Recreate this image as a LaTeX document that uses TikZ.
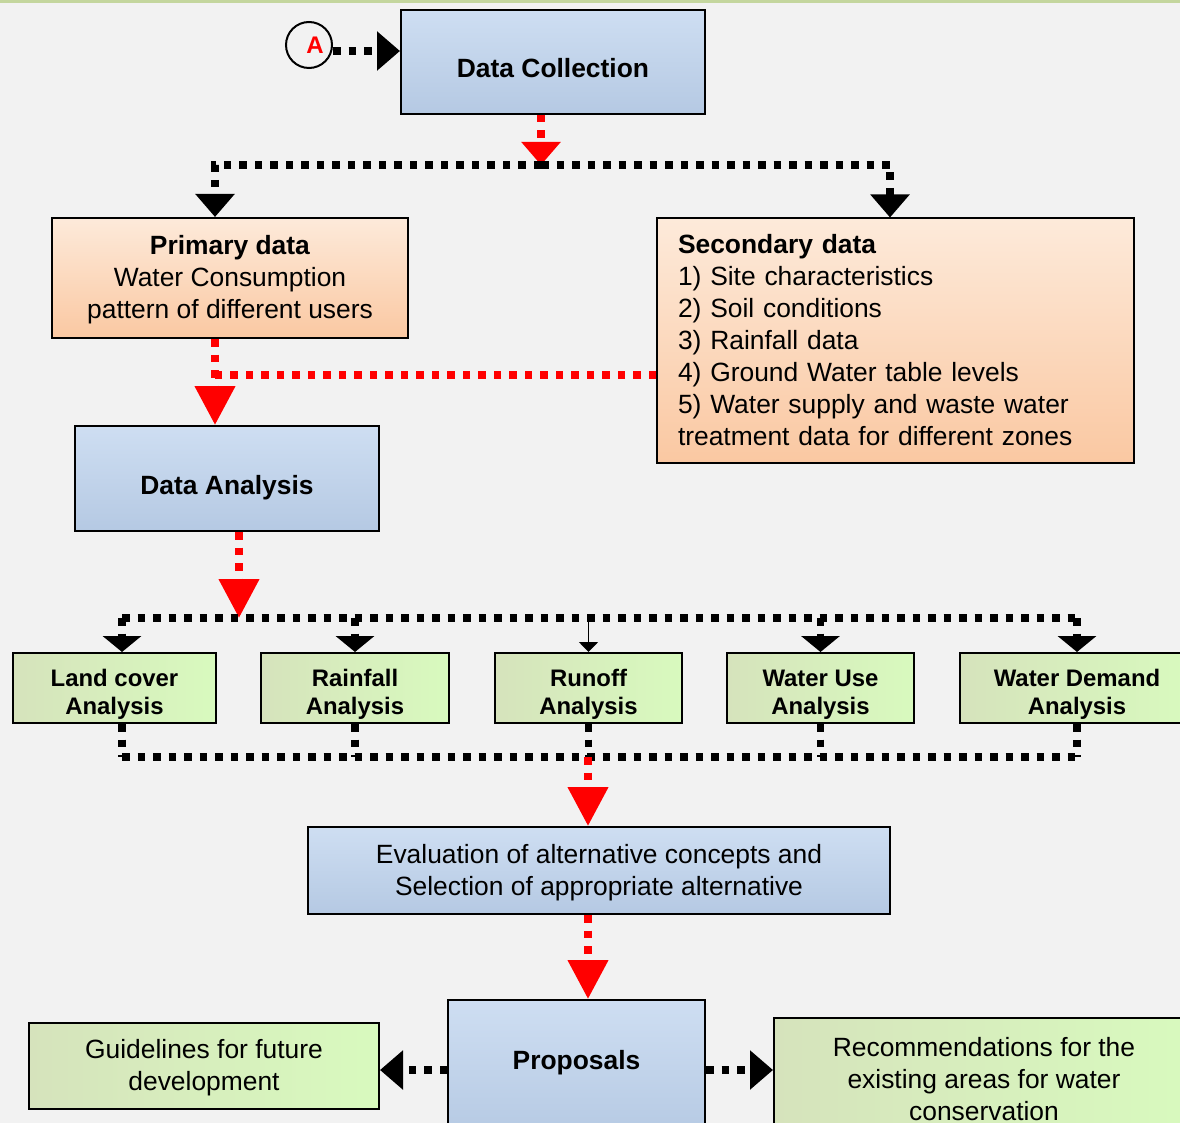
\documentclass[tikz,border=0pt]{standalone}
\usepackage{fontspec}
\setmainfont{Liberation Sans}
\usetikzlibrary{arrows.meta,calc}
\definecolor{paperbg}{RGB}{242,242,242}
\definecolor{topband}{RGB}{196,214,158}
\definecolor{bluetop}{RGB}{206,222,242}
\definecolor{bluebot}{RGB}{181,201,227}
\definecolor{peachtop}{RGB}{253,234,218}
\definecolor{peachbot}{RGB}{250,200,162}
\definecolor{greenleft}{RGB}{214,227,188}
\definecolor{greenright}{RGB}{216,250,190}
\newcommand\boxfont{\fontsize{26.4}{32}\selectfont}
\newcommand\gbfont{\fontsize{23.9}{28}\selectfont\bfseries}

\begin{document}
\begin{tikzpicture}[x=1pt,y=-1pt,
    box/.style={draw,line width=2pt,inner sep=0pt,font=\boxfont},
    bluebox/.style={box,top color=bluetop,bottom color=bluebot},
    peachbox/.style={box,top color=peachtop,bottom color=peachbot},
    greenbox/.style={box,left color=greenleft,right color=greenright},
    anbox/.style={greenbox,minimum height=70pt,align=center,font=\gbfont,text height=53pt,text depth=0pt},
    blkdot/.style={line width=7.5pt,dash pattern=on 7.5pt off 8pt},
    reddot/.style={red,line width=7.5pt,dash pattern=on 7.5pt off 8pt},
    bighead/.style={-{Triangle[length=23pt,width=38pt]}},
    redhead/.style={-{Triangle[length=39pt,width=39pt]}},
    smallhead/.style={-{Triangle[length=16pt,width=38pt]}}]
    \clip (0,0) rectangle (1180,1123);
    \fill[paperbg] (0,0) rectangle (1180,1123);
    \fill[topband] (0,0) rectangle (1180,3);
    % top part
    \node[bluebox,minimum width=304pt,minimum height=104pt,text height=31pt,text depth=0pt] (dc) at (553,62) {\textbf{Data Collection}};
    \node[circle,draw,line width=2pt,minimum size=46pt,inner sep=0pt,text=red,font=\fontsize{24}{24}\selectfont\bfseries] (ca) at (309,45) {\hspace*{12pt}A};
    \node[peachbox,minimum width=356pt,minimum height=120pt,align=center,text depth=1.6pt] (pd) at (230,278)
        {\textbf{Primary data}\\Water Consumption\\pattern of different users};
    \node[peachbox,minimum width=477pt,minimum height=244pt,text width=435pt,inner xsep=21pt,align=left] (sd) at (895.5,340.5)
        {\textbf{Secondary data}\\1) Site characteristics\\2) Soil conditions\\3) Rainfall data\\4) Ground Water table levels\\5) Water supply and waste water\\treatment data for different zones};
    \node[bluebox,minimum width=304pt,minimum height=105pt,text height=31pt,text depth=0pt] (da) at (227,478.5) {\textbf{Data Analysis}};
    % analysis row
    \node[anbox,minimum width=203pt] (lc) at (114.5,688) {Land cover\\Analysis};
    \node[anbox,minimum width=188pt] (rf) at (355,688) {Rainfall\\Analysis};
    \node[anbox,minimum width=187pt] (ro) at (588.5,688) {Runoff\\Analysis};
    \node[anbox,minimum width=187pt] (wu) at (820.5,688) {Water Use\\Analysis};
    \node[anbox,minimum width=234pt] (wd) at (1077,688) {Water Demand\\Analysis};
    % bottom part
    \node[bluebox,minimum width=582pt,minimum height=87pt,align=center,text depth=1.6pt] (ev) at (599,870.5)
        {Evaluation of alternative concepts and\\Selection of appropriate alternative};
    \node[bluebox,minimum width=257pt,minimum height=140pt,text height=19pt,text depth=20pt] (pr) at (576.5,1070) {\textbf{Proposals}};
    \node[greenbox,minimum width=350pt,minimum height=86pt,align=center,text depth=1.6pt] (gl) at (204,1066) {Guidelines for future\\development};
    \node[greenbox,minimum width=420pt,minimum height=123pt,align=center] (rc) at (984,1079.5)
        {Recommendations for the\\existing areas for water\\conservation};
    % junctions
    \coordinate (bus1) at (541,165);
    \coordinate (mrg) at (215,375);
    \coordinate (bus2) at (239,618);
    \coordinate (bus3) at (588,757);
    \path ([yshift=-6pt]ca.east) coordinate (aout);
    \path ([xshift=-15pt]pd.north) coordinate (pdin) ([xshift=-15pt]pd.south) coordinate (pdout);
    \path ([xshift=-5.5pt]sd.north) coordinate (sdin);
    \path ([xshift=7.5pt]lc.north) coordinate (lcin) ([xshift=7.5pt]lc.south) coordinate (lcout);
    % connectors
    \draw[blkdot,bighead] (aout) -- (aout -| dc.west);
    \draw[reddot,bighead] (bus1 |- dc.south) -- (bus1);
    \draw[blkdot,bighead] (bus1) -| (pdin);
    \draw[blkdot,bighead] (bus1) -| (sdin);
    \draw[reddot] (sd.west |- mrg) -- (mrg);
    \draw[reddot,redhead] (pdout) -- (pdout |- da.north);
    \draw[reddot,redhead] (bus2 |- da.south) -- (bus2);
    \draw[blkdot] (lcin |- bus2) -- (wd.north |- bus2);
    \foreach \n in {lcin,rf.north,wu.north,wd.north}
        \draw[blkdot,smallhead] (\n |- bus2) -- (\n);
    \draw[line width=1.8pt,-{Triangle[length=10pt,width=19pt]}] (ro.north |- bus2) -- (ro.north);
    \foreach \n in {lcout,rf.south,ro.south,wu.south,wd.south}
        \draw[blkdot] (\n) -- (\n |- bus3);
    \draw[blkdot] (lcout |- bus3) -- (wd.south |- bus3);
    \draw[reddot,redhead] (bus3) -- (bus3 |- ev.north);
    \draw[reddot,redhead] (bus3 |- ev.south) -- (bus3 |- pr.north);
    \draw[blkdot,bighead] (pr.west) -- (pr.west -| gl.east);
    \draw[blkdot,bighead] (pr.east) -- (pr.east -| rc.west);
\end{tikzpicture}
\end{document}
